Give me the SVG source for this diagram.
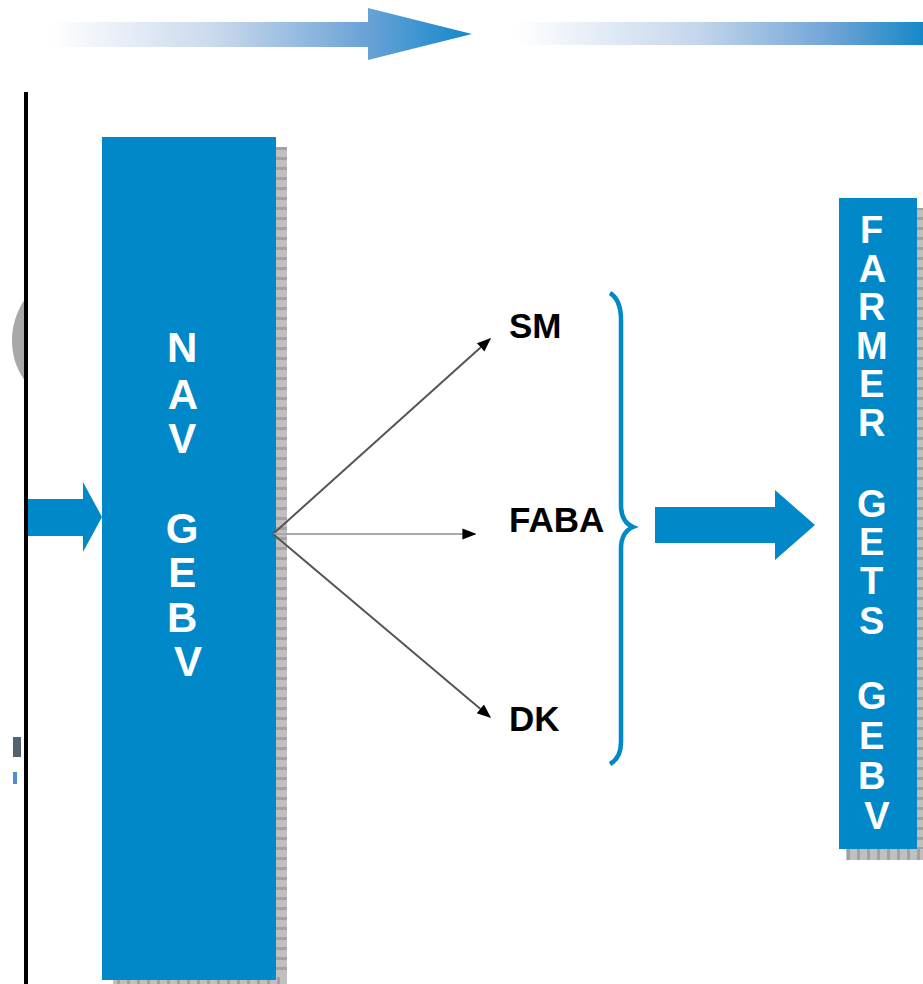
<svg xmlns="http://www.w3.org/2000/svg" width="923" height="984" viewBox="0 0 923 984">
  <defs>
    <linearGradient id="fadeArrow1" x1="50" y1="0" x2="472" y2="0" gradientUnits="userSpaceOnUse">
      <stop offset="0" stop-color="#ffffff"/>
      <stop offset="0.4" stop-color="#c8d8ec"/>
      <stop offset="0.75" stop-color="#6aa2d6"/>
      <stop offset="1" stop-color="#1188cc"/>
    </linearGradient>
    <linearGradient id="fadeArrow2" x1="515" y1="0" x2="923" y2="0" gradientUnits="userSpaceOnUse">
      <stop offset="0" stop-color="#ffffff"/>
      <stop offset="0.45" stop-color="#c4d6ec"/>
      <stop offset="0.78" stop-color="#6ea3d6"/>
      <stop offset="1" stop-color="#1688c8"/>
    </linearGradient>
    <pattern id="shadowHatch" width="6" height="10" patternUnits="userSpaceOnUse">
      <rect width="6" height="10" fill="#c0c0c0"/>
      <rect y="7" width="6" height="3" fill="#a2a2a2"/>
    </pattern>
    <pattern id="shadowHatchH" width="10" height="6" patternUnits="userSpaceOnUse">
      <rect width="10" height="6" fill="#c0c0c0"/>
      <rect x="7" width="3" height="6" fill="#a2a2a2"/>
    </pattern>
    <marker id="tip" viewBox="0 0 10 10" refX="9" refY="5" markerWidth="14" markerHeight="14" markerUnits="userSpaceOnUse" orient="auto">
      <path d="M0,1 L10,5 L0,9 Z" fill="#000"/>
    </marker>
  </defs>
  <style>
    .box { fill: #0088c8; }
    .vlabel { font-family: "Liberation Sans", Arial, sans-serif; font-weight: bold; fill: #ffffff; text-anchor: middle; }
    .out { font-family: "Liberation Sans", Arial, sans-serif; font-weight: bold; font-size: 35px; fill: #000000; }
    .ray { fill: none; stroke-width: 2; marker-end: url(#tip); }
  </style>

  <!-- fading process arrows along the top -->
  <g id="top-arrows">
    <path d="M50,22 H368 V8 L472,34 L368,60 V47 H50 Z" fill="url(#fadeArrow1)"/>
    <rect x="515" y="22" width="408" height="23" fill="url(#fadeArrow2)"/>
  </g>

  <!-- left margin rule and partial shapes -->
  <g id="left-edge">
    <path d="M25,299 C15,314 12,328 12,340 C12,353 15,367 25,381 Z" fill="#a8a8a8"/>
    <rect x="13" y="737" width="8" height="20" fill="#556070"/>
    <rect x="13" y="772" width="4" height="12" fill="#4a8fd0"/>
    <line x1="26" y1="92" x2="26" y2="984" stroke="#000" stroke-width="4"/>
  </g>

  <!-- input arrow into NAV GEBV -->
  <g id="input-arrow">
    <path d="M28,499 H83 V482 L102,517 L83,552 V536 H28 Z" class="box"/>
  </g>

  <!-- NAV GEBV block -->
  <g id="nav-gebv">
    <rect x="113" y="147" width="174" height="840" fill="url(#shadowHatch)"/>
    <rect x="113" y="977" width="174" height="10" fill="url(#shadowHatchH)"/>
    <rect x="102" y="137" width="174" height="843" class="box"/>
    <text class="vlabel" font-size="42">
      <tspan x="188" y="362">N</tspan>
      <tspan x="188" y="409">A</tspan>
      <tspan x="188" y="453">V</tspan>
      <tspan x="188" y="543">G</tspan>
      <tspan x="188" y="587">E</tspan>
      <tspan x="188" y="632">B</tspan>
      <tspan x="188" y="676">V</tspan>
    </text>
  </g>

  <!-- outputs -->
  <g id="sm"><text class="out" x="509" y="338">SM</text></g>
  <g id="faba"><text class="out" x="509" y="532">FABA</text></g>
  <g id="dk"><text class="out" x="509" y="731">DK</text></g>

  <!-- connectors -->
  <g id="connectors">
    <line class="ray" x1="273" y1="534" x2="490" y2="339" stroke="#555"/>
    <line class="ray" x1="273" y1="534" x2="475" y2="534" stroke="#a8a8a8"/>
    <line class="ray" x1="273" y1="534" x2="490" y2="717" stroke="#555"/>
  </g>

  <!-- grouping brace -->
  <g id="brace">
    <path d="M610,293 Q621,300 621,320 V505 Q621,522 633,527 Q621,532 621,549 V742 Q621,758 610,764" fill="none" stroke="#0088c8" stroke-width="4.5"/>
  </g>

  <!-- result arrow -->
  <g id="result-arrow">
    <path d="M655,507 H775 V490 L815,525 L775,560 V543 H655 Z" class="box"/>
  </g>

  <!-- FARMER GETS GEBV block -->
  <g id="farmer-gets-gebv">
    <rect x="846" y="208" width="80" height="652" fill="url(#shadowHatch)"/>
    <rect x="846" y="849" width="80" height="11" fill="url(#shadowHatchH)"/>
    <rect x="839" y="198" width="78" height="651" class="box"/>
    <text class="vlabel" font-size="38">
      <tspan x="877" y="243">F</tspan>
      <tspan x="877" y="282">A</tspan>
      <tspan x="877" y="320">R</tspan>
      <tspan x="877" y="359">M</tspan>
      <tspan x="877" y="397">E</tspan>
      <tspan x="877" y="436">R</tspan>
      <tspan x="877" y="517">G</tspan>
      <tspan x="877" y="555">E</tspan>
      <tspan x="877" y="594">T</tspan>
      <tspan x="877" y="634">S</tspan>
      <tspan x="877" y="709">G</tspan>
      <tspan x="877" y="749">E</tspan>
      <tspan x="877" y="789">B</tspan>
      <tspan x="877" y="829">V</tspan>
    </text>
  </g>
</svg>
